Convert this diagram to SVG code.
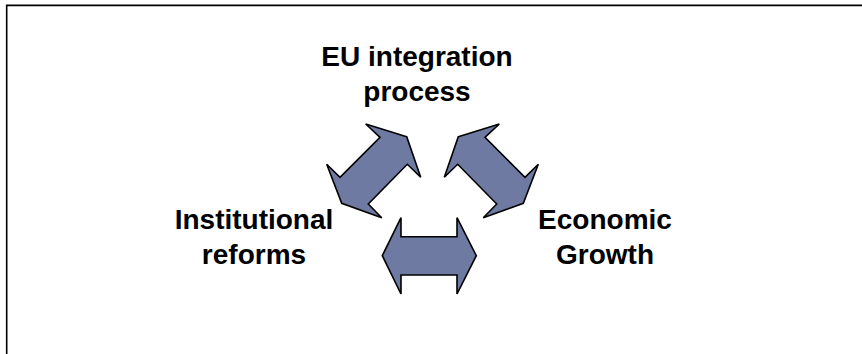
<svg xmlns="http://www.w3.org/2000/svg" width="862" height="354" viewBox="0 0 862 354">
<style>
.arrow{fill:#6E7AA2;stroke:#000;stroke-width:1.6;stroke-linejoin:miter}
.lbl{font-family:"Liberation Sans",Arial,sans-serif;font-weight:bold;font-size:28px;fill:#000;text-anchor:middle}
</style>
<rect x="0" y="0" width="862" height="354" fill="#fff"/>
<path d="M6.7 354 V5.4 H862" fill="none" stroke="#000" stroke-width="1.6"/>
<g id="eu">
<text class="lbl" x="417" y="66">EU integration</text>
<text class="lbl" x="417" y="101">process</text>
</g>
<g id="institutional">
<text class="lbl" x="254" y="229">Institutional</text>
<text class="lbl" x="254" y="264">reforms</text>
</g>
<g id="economic">
<text class="lbl" x="605" y="229">Economic</text>
<text class="lbl" x="605" y="264">Growth</text>
</g>
<g id="connectors">
<polygon class="arrow" points="406.7,136.7 365.7,124 380,137.3 340,177.3 326.7,164.3 341.7,203.3 381.7,217.7 368.3,204 407.3,164.3 420.7,177.3"/>
<polygon class="arrow" points="458.3,136.7 499.3,124 485,137.3 525,177.3 538.3,164.3 523.3,203.3 483.3,217.7 496.7,204 457.7,164.3 444.3,177.3"/>
<polygon class="arrow" points="382.3,255.7 401,217.7 401,236.7 457,236.7 457,217.7 476.3,255.7 457,294 457,275 401,275 401,294"/>
</g>
</svg>
